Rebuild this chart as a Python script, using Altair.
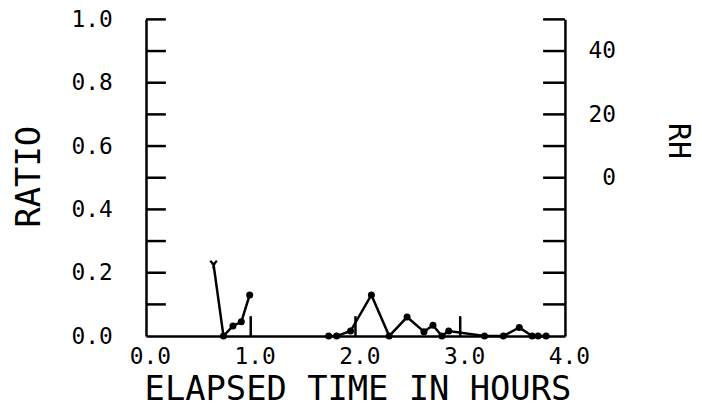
import altair as alt
import pandas as pd

# ---- data ----
hours = [0.645, 0.74, 0.83, 0.91, 0.99,
         1.744, 1.82, 1.953, 2.152, 2.322, 2.493, 2.654, 2.74, 2.825, 2.89,
         3.232, 3.412, 3.564, 3.687, 3.744, 3.82]
ratio = [0.226, 0.0, 0.032, 0.045, 0.13,
         0.0, 0.0, 0.016, 0.13, 0.0, 0.06, 0.014, 0.034, 0.0, 0.016,
         0.0, 0.0, 0.027, 0.0, 0.0, 0.0]
segment = [1] * 5 + [2] * 16
marker = ["star"] + ["dot"] * 20

x_labels = [0, 1, 2, 3, 4]
x_ticks = [1, 2, 3]
ratio_labels = [0.0, 0.2, 0.4, 0.6, 0.8, 1.0]
ratio_ticks = [0.1, 0.2, 0.3, 0.4, 0.5, 0.6, 0.7, 0.8, 0.9, 1.0]
rh_labels = [0, 20, 40]
rh_ticks = [-40, -30, -20, -10, 0, 10, 20, 30, 40, 50]

W, H = 422, 319
FONT = "DejaVu Sans Mono"

df = pd.DataFrame({"hours": hours, "ratio": ratio, "segment": segment, "marker": marker})
df_xt = pd.DataFrame({"hours": x_ticks})
df_yt = pd.DataFrame({"ratio": ratio_ticks})
df_rh = pd.DataFrame({"rh": rh_ticks})

common = dict(grid=False, ticks=False, domain=True, domainColor="black", domainWidth=2.5,
              labelFont=FONT, titleFont=FONT, labelColor="black", titleColor="black",
              titleFontWeight="normal", labelFontWeight="normal", labelFontSize=23,
              titleAlign="center", titleBaseline="middle")

X = alt.X("hours:Q",
          scale=alt.Scale(domain=[0, 4], nice=False, zero=False),
          axis=alt.Axis(values=x_labels, format=".1f", title="ELAPSED TIME IN HOURS",
                        labelPadding=10, labelOffset=4, labelFlush=False,
                        titleFontSize=34, titleX=213, titleY=54, titleAngle=0, **common))
Y = alt.Y("ratio:Q",
          scale=alt.Scale(domain=[0, 1], nice=False, zero=False),
          axis=alt.Axis(values=ratio_labels, format=".1f", title="RATIO",
                        labelPadding=34, labelFlush=False, titleFontSize=34,
                        titleAngle=270, titleX=-117, titleY=158, **common))

line = alt.Chart(df).mark_line(color="black", strokeWidth=2.5).encode(
    x=X, y=Y, detail="segment:N")
dots = alt.Chart(df).transform_filter(alt.datum.marker == "dot").mark_circle(
    color="black", size=50, opacity=1).encode(x=X, y=Y)
star = alt.Chart(df).transform_filter(alt.datum.marker == "star").mark_point(
    shape="M-0.8,-0.9L0,0L0.8,-0.9M0,0L0,1M-0.5,-0.2L0.5,-0.2", filled=False,
    color="black", strokeWidth=2.2, size=70, opacity=1).encode(x=X, y=Y)
ytick = alt.Chart(df_yt).mark_rule(color="black", strokeWidth=2.5).encode(
    y=Y, x=alt.value(0), x2=alt.value(20))
xtick = alt.Chart(df_xt).mark_rule(color="black", strokeWidth=2.5).encode(
    x=X, y=alt.value(H), y2=alt.value(H - 20))

ratio_layer = alt.layer(line, dots, star, ytick, xtick)

rh_layer = alt.Chart(df_rh).mark_rule(color="black", strokeWidth=2.5).encode(
    y=alt.Y("rh:Q", scale=alt.Scale(domain=[-50, 50], nice=False, zero=False),
            axis=alt.Axis(orient="right", values=rh_labels, format="d", title="RH",
                          labelAlign="right", labelPadding=51, labelFlush=False,
                          titleFontSize=30, titleAngle=90, titleX=113, titleY=122,
                          **common)),
    x=alt.value(W - 22), x2=alt.value(W))

chart = alt.layer(ratio_layer, rh_layer).resolve_scale(y="independent").properties(
    width=W, height=H,
    background="white",
    autosize=alt.AutoSizeParams(type="none"),
    padding={"left": 139, "top": 10, "right": 130, "bottom": 72},
).configure_view(stroke="transparent")

chart.save("out.html", embed_options={"renderer": "svg", "actions": False})
